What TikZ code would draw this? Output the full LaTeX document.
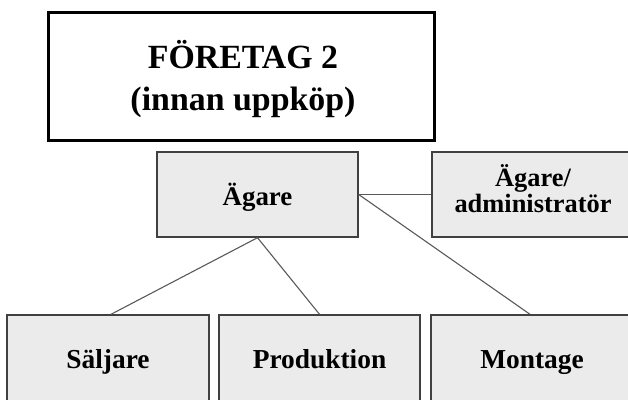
\documentclass[tikz,border=0pt]{standalone}
\usepackage{fontspec}
\setmainfont{Liberation Serif}
\begin{document}
\begin{tikzpicture}[x=1bp,y=-1bp,
  titlebox/.style={draw=black, line width=3bp, fill=white, minimum width=385bp,
    minimum height=128bp, inner sep=0pt},
  titletext/.style={inner sep=0pt, align=center, anchor=base,
    font=\fontsize{34}{42}\selectfont\bfseries},
  unitbox/.style={draw=black!75, line width=1.4bp, fill=black!8, inner sep=0pt,
    font=\fontsize{27.5}{22}\selectfont\bfseries},
  unittext/.style={inner sep=0pt, align=center, anchor=base,
    font=\fontsize{26.5}{22}\selectfont\bfseries},
  link/.style={draw=black!65, line width=1.1bp}]
  \useasboundingbox (0,0) rectangle (628,399);
  % heading
  \node[titlebox] (title) at (241.5,76) {};
  \node[titletext] (titlelabel) at (243,110) {FÖRETAG 2\\(innan uppköp)};
  % upper level
  \node[unitbox, minimum width=201bp, minimum height=85bp, text height=26bp, text depth=5bp,
    font=\fontsize{27}{22}\selectfont\bfseries] (agare) at (257.5,194.5) {Ägare};
  \node[unitbox, minimum width=202bp, minimum height=85bp] (admin) at (533,194.5) {};
  \node[unittext] (adminlabel) at (533,212) {Ägare/\\administratör};
  % lower level
  \node[unitbox, minimum width=202bp, minimum height=89bp, text height=22bp, text depth=5bp] (saljare) at (108,359.5) {Säljare};
  \node[unitbox, minimum width=201bp, minimum height=89bp, text height=22bp, text depth=5bp] (produktion) at (319.5,359.5) {Produktion};
  \node[unitbox, minimum width=202bp, minimum height=89bp, text height=22bp, text depth=5bp] (montage) at (532,359.5) {Montage};
  % connectors
  \draw[link] (agare.south) -- ([xshift=3bp]saljare.north);
  \draw[link] (agare.south) -- (produktion.north);
  \draw[link] (agare.east) -- (admin.west);
  \draw[link] (agare.east) -- ([xshift=-2bp]montage.north);
\end{tikzpicture}
\end{document}
